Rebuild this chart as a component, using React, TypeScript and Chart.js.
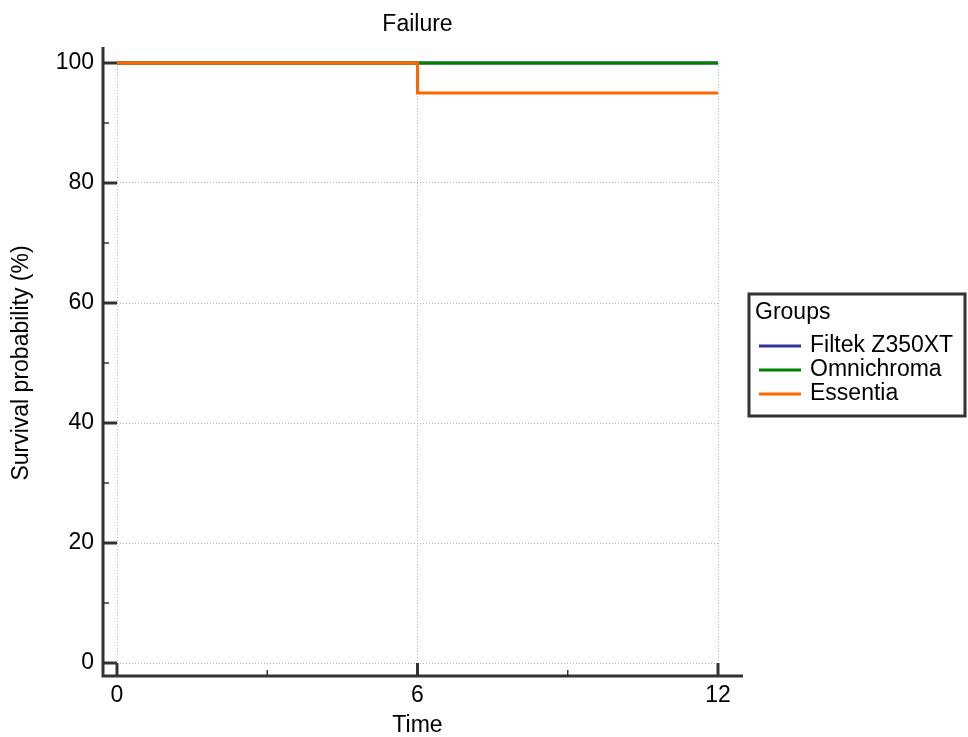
import React, { useEffect, useRef } from "react";
import { Chart, registerables } from "chart.js";

Chart.register(...registerables);

const chartTitle = "Failure";
const xAxisTitle = "Time";
const yAxisTitle = "Survival probability (%)";
const legendTitle = "Groups";

const times = [0, 6, 12];
const seriesNames = ["Filtek Z350XT", "Omnichroma", "Essentia"];
const seriesColors = ["#333399", "#008000", "#ff6600"];
const filtekValues = [100, 100, 100];
const omnichromaValues = [100, 100, 100];
const essentiaValues = [100, 95, 95];

const xTicks = [0, 6, 12];
const xMinorTicks = [3, 9];
const yTicks = [0, 20, 40, 60, 80, 100];
const yMinorTicks = [10, 30, 50, 70, 90];

const FONT = "'Liberation Sans', Arial, sans-serif";
const FS = 23;
const AXIS_COLOR = "#333333";

const decorPlugin = {
  id: "decor",
  afterDraw(chart: any) {
    const { ctx, chartArea } = chart;
    const xs = chart.scales.x;
    const ys = chart.scales.y;
    const axisX = chartArea.left - 14;
    const axisY = chartArea.bottom + 13;
    ctx.save();
    ctx.strokeStyle = AXIS_COLOR;
    ctx.lineCap = "butt";
    ctx.lineWidth = 3;
    ctx.beginPath();
    ctx.moveTo(axisX, chartArea.top - 16);
    ctx.lineTo(axisX, axisY + 1.5);
    ctx.moveTo(axisX - 1.5, axisY);
    ctx.lineTo(chartArea.right + 25, axisY);
    ctx.stroke();
    ctx.lineWidth = 3;
    ctx.beginPath();
    for (const v of yTicks) {
      const py = ys.getPixelForValue(v);
      ctx.moveTo(axisX, py);
      ctx.lineTo(chartArea.left, py);
    }
    for (const v of xTicks) {
      const px = xs.getPixelForValue(v);
      ctx.moveTo(px, axisY);
      ctx.lineTo(px, chartArea.bottom);
    }
    ctx.stroke();
    ctx.lineWidth = 1.5;
    ctx.beginPath();
    for (const v of yMinorTicks) {
      const py = ys.getPixelForValue(v);
      ctx.moveTo(axisX, py);
      ctx.lineTo(axisX + 6, py);
    }
    for (const v of xMinorTicks) {
      const px = xs.getPixelForValue(v);
      ctx.moveTo(px, axisY);
      ctx.lineTo(px, axisY - 6);
    }
    ctx.stroke();

    ctx.fillStyle = "#000";
    ctx.font = `${FS}px ${FONT}`;
    ctx.textAlign = "center";
    ctx.textBaseline = "middle";
    ctx.fillText(chartTitle, (chartArea.left + chartArea.right) / 2, 25);

    const bx = 749;
    const by = 294;
    const bw = 216;
    const bh = 122;
    ctx.lineWidth = 3;
    ctx.strokeRect(bx, by, bw, bh);
    ctx.textAlign = "left";
    ctx.fillText(legendTitle, bx + 6, by + 19);
    const rowY = [by + 52, by + 76, by + 100];
    chart.data.datasets.forEach((ds: any, i: number) => {
      const y = rowY[i];
      ctx.strokeStyle = ds.borderColor;
      ctx.lineWidth = 3;
      ctx.beginPath();
      ctx.moveTo(bx + 10, y);
      ctx.lineTo(bx + 52, y);
      ctx.stroke();
      ctx.fillStyle = "#000";
      ctx.fillText(ds.label, bx + 61, y);
    });
    ctx.restore();
  },
};

export default function App() {
  const canvasRef = useRef<HTMLCanvasElement | null>(null);

  useEffect(() => {
    const canvas = canvasRef.current;
    if (!canvas) return;
    const allValues = [filtekValues, omnichromaValues, essentiaValues];
    const chart = new Chart(canvas, {
      type: "line",
      data: {
        datasets: seriesNames.map((name, i) => ({
          label: name,
          data: times.map((t, j) => ({ x: t, y: allValues[i][j] })),
          borderColor: seriesColors[i],
          backgroundColor: seriesColors[i],
          borderWidth: 3,
          pointRadius: 0,
          stepped: "before" as const,
          fill: false,
          clip: 8,
          order: seriesNames.length - i,
        })),
      },
      options: {
        responsive: false,
        animation: false,
        events: [],
        layout: { padding: { top: 63, right: 250, left: 0, bottom: 0 } },
        plugins: {
          legend: { display: false },
          title: { display: false },
          tooltip: { enabled: false },
        },
        scales: {
          x: {
            type: "linear",
            min: 0,
            max: 12,
            afterBuildTicks: (scale: any) => {
              scale.ticks = xTicks.map((v) => ({ value: v }));
            },
            afterFit: (scale: any) => {
              scale.height = 74;
            },
            ticks: {
              padding: 19,
              color: "#000",
              font: { family: FONT, size: FS },
              maxRotation: 0,
              autoSkip: false,
            },
            grid: { display: true, drawTicks: false, color: "#b8b8b8", lineWidth: 1 },
            border: { display: false, dash: [1, 2] },
            title: {
              display: true,
              text: xAxisTitle,
              color: "#000",
              font: { family: FONT, size: FS },
              padding: { top: 0, bottom: -2 },
            },
          },
          y: {
            type: "linear",
            min: 0,
            max: 100,
            afterBuildTicks: (scale: any) => {
              scale.ticks = yTicks.map((v) => ({ value: v }));
            },
            afterFit: (scale: any) => {
              scale.width = 117;
            },
            ticks: {
              padding: 23,
              color: "#000",
              font: { family: FONT, size: FS },
              autoSkip: false,
            },
            grid: { display: true, drawTicks: false, color: "#b8b8b8", lineWidth: 1 },
            border: { display: false, dash: [1, 2] },
            title: {
              display: true,
              text: yAxisTitle,
              color: "#000",
              font: { family: FONT, size: FS },
              padding: { top: 8, bottom: 0 },
            },
          },
        },
      },
      plugins: [decorPlugin],
    });
    return () => chart.destroy();
  }, []);

  return (
    <div style={{ position: "fixed", left: 0, top: 0, width: 968, height: 737, background: "#fff" }}>
      <canvas ref={canvasRef} width={968} height={737} style={{ display: "block" }} />
    </div>
  );
}
